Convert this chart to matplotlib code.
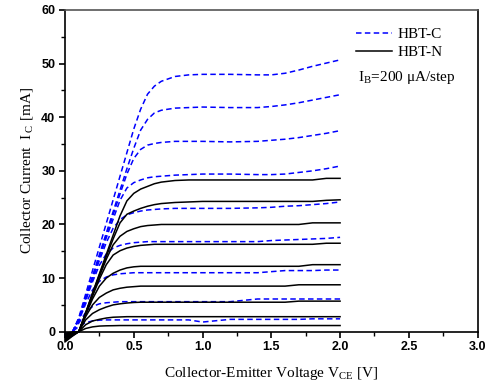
import matplotlib
import numpy as np
import matplotlib.pyplot as plt
from matplotlib.ticker import MultipleLocator

matplotlib.rcParams['mathtext.fontset'] = 'custom'
matplotlib.rcParams['mathtext.rm'] = 'Liberation Serif'
matplotlib.rcParams['font.family'] = 'Liberation Serif'

# collector-emitter voltage grid [V]
vce = [0, 0.05, 0.1, 0.15, 0.2, 0.25, 0.3, 0.35, 0.4, 0.45, 0.5, 0.55, 0.6, 0.65,
       0.7, 0.8, 0.9, 1.0, 1.2, 1.4, 1.5, 1.6, 1.7, 1.8, 1.9, 2.0]

# HBT-C (blue dashed), collector current [mA], IB = 200 uA/step
hbt_c = [
    [-1.0, -0.3, 2.6, 7.0, 11.4, 15.8, 20.2, 24.6, 29.0, 33.4, 37.8, 41.5, 44.3, 45.8,
     46.7, 47.6, 47.9, 48.0, 48.0, 47.9, 47.9, 48.2, 48.8, 49.5, 50.1, 50.7],
    [-1.0, -0.3, 2.4, 6.4, 10.4, 14.4, 18.4, 22.4, 26.4, 30.4, 34.2, 37.6, 39.6, 40.8,
     41.3, 41.7, 41.8, 41.9, 41.8, 41.8, 42.0, 42.3, 42.7, 43.2, 43.7, 44.2],
    [-0.9, -0.3, 2.3, 6.2, 10.1, 14.0, 17.9, 21.8, 25.7, 29.4, 32.3, 34.0, 34.8, 35.1,
     35.3, 35.5, 35.5, 35.5, 35.4, 35.5, 35.7, 35.9, 36.2, 36.6, 37.0, 37.5],
    [-0.9, -0.3, 2.3, 6.2, 10.0, 13.8, 17.5, 21.0, 24.5, 26.8, 27.8, 28.3, 28.7, 28.9,
     29.0, 29.2, 29.3, 29.4, 29.4, 29.3, 29.3, 29.4, 29.7, 30.0, 30.4, 30.9],
    [-0.8, -0.3, 2.2, 6.0, 9.7, 13.3, 16.6, 19.3, 20.9, 21.8, 22.2, 22.5, 22.7, 22.8,
     22.9, 23.0, 23.0, 23.0, 23.0, 23.1, 23.2, 23.4, 23.5, 23.7, 23.9, 24.2],
    [-0.7, -0.2, 2.1, 5.8, 9.3, 12.4, 14.5, 15.6, 16.1, 16.4, 16.6, 16.7, 16.8, 16.8,
     16.8, 16.8, 16.8, 16.8, 16.8, 16.8, 17.0, 17.1, 17.2, 17.3, 17.4, 17.6],
    [-0.6, -0.2, 2.0, 5.2, 7.8, 9.4, 10.2, 10.6, 10.8, 10.9, 11.0, 11.0, 11.0, 11.0,
     11.0, 11.0, 11.0, 11.0, 11.0, 11.0, 11.2, 11.4, 11.4, 11.4, 11.5, 11.5],
    [-0.5, -0.2, 1.6, 3.6, 4.7, 5.2, 5.4, 5.5, 5.6, 5.6, 5.6, 5.6, 5.6, 5.6,
     5.6, 5.6, 5.6, 5.6, 5.6, 6.1, 6.1, 6.1, 6.1, 6.1, 6.1, 6.1],
    [-0.4, -0.1, 1.0, 1.7, 2.0, 2.15, 2.2, 2.2, 2.2, 2.2, 2.2, 2.2, 2.2, 2.2,
     2.2, 2.2, 2.2, 1.8, 2.3, 2.3, 2.3, 2.3, 2.3, 2.4, 2.4, 2.4],
]

# HBT-N (black solid), collector current [mA]
hbt_n = [
    [-1.9, -0.9, 0.0, 3.5, 7.2, 10.8, 14.4, 18.0, 21.6, 24.4, 25.8, 26.6, 27.1, 27.6,
     27.9, 28.2, 28.3, 28.3, 28.3, 28.3, 28.3, 28.3, 28.3, 28.3, 28.6, 28.6],
    [-1.7, -0.8, 0.0, 3.5, 7.1, 10.6, 14.0, 17.3, 20.3, 21.9, 22.5, 23.0, 23.4, 23.7,
     23.9, 24.1, 24.2, 24.3, 24.3, 24.3, 24.3, 24.3, 24.3, 24.3, 24.5, 24.6],
    [-1.5, -0.7, 0.0, 3.4, 6.9, 10.3, 13.5, 16.2, 17.8, 18.7, 19.2, 19.6, 19.8, 19.9,
     20.0, 20.0, 20.0, 20.0, 20.0, 20.0, 20.0, 20.0, 20.0, 20.3, 20.3, 20.3],
    [-1.3, -0.6, 0.0, 3.3, 6.6, 9.8, 12.5, 14.3, 15.1, 15.6, 15.9, 16.1, 16.2, 16.3,
     16.3, 16.3, 16.3, 16.3, 16.3, 16.3, 16.3, 16.3, 16.3, 16.3, 16.5, 16.5],
    [-1.1, -0.5, 0.0, 3.1, 6.1, 8.5, 10.0, 10.9, 11.5, 11.9, 12.1, 12.2, 12.2, 12.2,
     12.2, 12.2, 12.2, 12.2, 12.2, 12.2, 12.2, 12.2, 12.2, 12.5, 12.5, 12.5],
    [-0.9, -0.4, 0.0, 2.8, 5.0, 6.4, 7.2, 7.8, 8.1, 8.3, 8.4, 8.5, 8.5, 8.5,
     8.5, 8.5, 8.5, 8.5, 8.5, 8.5, 8.5, 8.5, 8.75, 8.75, 8.75, 8.75],
    [-0.7, -0.3, 0.0, 2.2, 3.4, 4.1, 4.6, 5.0, 5.2, 5.35, 5.45, 5.5, 5.5, 5.5,
     5.5, 5.5, 5.5, 5.5, 5.5, 5.5, 5.5, 5.5, 5.7, 5.7, 5.7, 5.7],
    [-0.5, -0.2, 0.0, 1.3, 2.0, 2.3, 2.55, 2.7, 2.75, 2.8, 2.8, 2.8, 2.8, 2.8,
     2.8, 2.8, 2.8, 2.8, 2.8, 2.8, 2.8, 2.8, 2.8, 2.8, 2.8, 2.8],
    [-0.3, -0.1, 0.0, 0.6, 0.9, 1.05, 1.1, 1.12, 1.15, 1.15, 1.15, 1.15, 1.15, 1.15,
     1.15, 1.15, 1.15, 1.15, 1.15, 1.15, 1.15, 1.15, 1.15, 1.15, 1.15, 1.15],
]

fig = plt.figure(figsize=(4.97, 3.89), dpi=100)
ax = fig.add_axes([0.1308, 0.1473, 0.8302, 0.8270])

for i, curve in enumerate(hbt_c):
    ax.plot(vce, curve, color='#0000ff', linewidth=1.1, dashes=(3.6, 2.2),
            clip_on=False, label='HBT-C' if i == 0 else None)
for i, curve in enumerate(hbt_n):
    ax.plot(vce, curve, color='k', linewidth=1.1, clip_on=False,
            label='HBT-N' if i == 0 else None)

ax.set_xlim(0, 3.0)
ax.set_ylim(0, 60)
ax.xaxis.set_major_locator(MultipleLocator(0.5))
ax.xaxis.set_minor_locator(MultipleLocator(0.25))
ax.yaxis.set_major_locator(MultipleLocator(10))
ax.yaxis.set_minor_locator(MultipleLocator(5))
ax.xaxis.set_major_formatter(matplotlib.ticker.FormatStrFormatter('%.1f'))
ax.tick_params(which='major', direction='out', length=4, width=1.2, pad=3)
ax.tick_params(which='minor', direction='out', length=3, width=1.0)
ax.tick_params(top=False, right=False, which='both')
for lab in ax.get_xticklabels() + ax.get_yticklabels():
    lab.set_fontfamily('Liberation Sans')
    lab.set_fontweight('bold')
    lab.set_fontsize(9)
for s in ax.spines.values():
    s.set_linewidth(1.2)
ax.spines['top'].set_color('#555555')

ax.set_xlabel(r'Collector-Emitter Voltage V$_{\rm CE}$ [V]', fontsize=11, labelpad=8)
ax.set_ylabel(r'Collector Current  I$_{\rm \,C}$ [mA]', fontsize=11, labelpad=4)

leg = ax.legend(loc='upper left', bbox_to_anchor=(0.69, 0.965), frameon=False,
                fontsize=11, handlelength=2.4, handletextpad=0.35,
                labelspacing=0.3, borderaxespad=0)
ax.text(0.71, 0.79, 'I$_{\\rm B}$=200 \u03bcA/step', transform=ax.transAxes,
        fontsize=11, va='center', ha='left')

fig.savefig('out.png', dpi=100)
